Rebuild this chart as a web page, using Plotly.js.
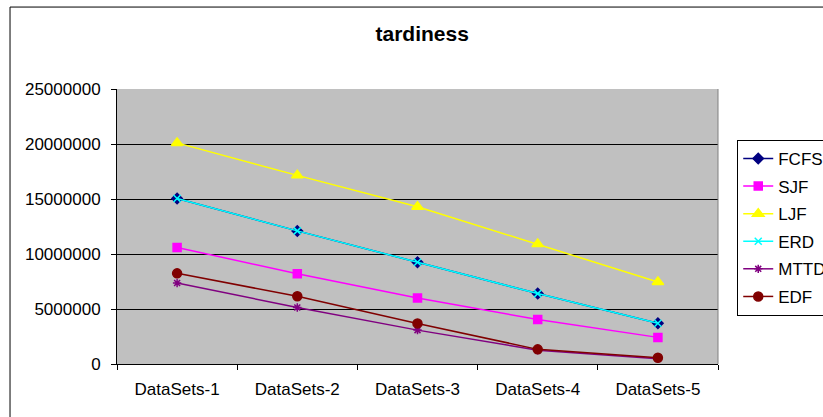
<!DOCTYPE html>
<html>
<head>
<meta charset="utf-8">
<script src="https://cdn.plot.ly/plotly-3.0.1.min.js"></script>
<style>
html,body{margin:0;padding:0;background:#fff;}
#chart{width:823px;height:417px;}
</style>
</head>
<body>
<div id="chart"></div>
<script>
var categories = ["DataSets-1", "DataSets-2", "DataSets-3", "DataSets-4", "DataSets-5"];
var fcfs = [15050000, 12100000, 9250000, 6400000, 3700000];
var sjf  = [10600000, 8200000, 6000000, 4050000, 2420000];
var ljf  = [20100000, 17150000, 14300000, 10900000, 7450000];
var erd  = [15050000, 12100000, 9250000, 6400000, 3700000];
var mttd = [7370000, 5130000, 3080000, 1250000, 480000];
var edf  = [8240000, 6160000, 3690000, 1330000, 570000];
var yTicks = [0, 5000000, 10000000, 15000000, 20000000, 25000000];

function tr(name, y, color, symbol, size) {
  return {
    x: categories, y: y, name: name, type: "scatter", mode: "lines+markers",
    line: {color: color, width: 1.5},
    marker: {color: color, size: size, symbol: symbol, line: {color: color, width: 1.5}},
    legendgroup: name
  };
}

var data = [
  tr("FCFS", fcfs, "#000080", "diamond", 8),
  tr("SJF", sjf, "#FF00FF", "square", 8),
  tr("LJF", ljf, "#FFFF00", "triangle-up", 10),
  tr("ERD", erd, "#00FFFF", "x-thin-open", 7),
  tr("MTTD", mttd, "#800080", "asterisk-open", 7),
  tr("EDF", edf, "#800000", "circle", 9)
];

var layout = {
  width: 823, height: 417,
  margin: {l: 117, r: 105, t: 89, b: 53, autoexpand: false},
  paper_bgcolor: "#ffffff",
  plot_bgcolor: "#C0C0C0",
  font: {family: "Liberation Sans, Arial, sans-serif", size: 17, color: "#000"},
  title: {text: "<b>tardiness</b>", font: {size: 21, color: "#000"}, x: 0.513, xanchor: "center", y: 0.92, yanchor: "middle"},
  showlegend: true,
  legend: {
    x: 1.032, xanchor: "left", y: 0.815, yanchor: "top",
    bordercolor: "#000", borderwidth: 1, bgcolor: "#fff",
    font: {size: 17, color: "#000"}, tracegroupgap: 2.5, traceorder: "grouped"
  },
  xaxis: {
    type: "category", range: [-0.5, 4.5], tickson: "boundaries", ticks: "outside", ticklen: 5,
    tickcolor: "#000", showline: true, linecolor: "#000", linewidth: 1, mirror: false,
    showgrid: false, zeroline: false, fixedrange: true,
    tickfont: {size: 17}, ticklabelstandoff: 10
  },
  yaxis: {
    range: [0, 25000000], tickvals: yTicks, ticktext: yTicks.map(String),
    ticks: "outside", ticklen: 5, tickcolor: "#000",
    showline: true, linecolor: "#000", linewidth: 1,
    gridcolor: "#000", gridwidth: 1, zeroline: false, fixedrange: true,
    tickfont: {size: 17}, ticklabelstandoff: 7
  },
  shapes: [
    {type: "rect", xref: "paper", yref: "paper", x0: -0.178, x1: 1.3, y0: -0.4, y1: 1.298,
     line: {color: "#000", width: 1}, fillcolor: "rgba(0,0,0,0)", layer: "below"},
    {type: "line", xref: "paper", yref: "paper", x0: 1, x1: 1, y0: 0, y1: 1,
     line: {color: "#808080", width: 1}}
  ]
};

Plotly.newPlot("chart", data, layout, {displayModeBar: false, staticPlot: true});
</script>
</body>
</html>
